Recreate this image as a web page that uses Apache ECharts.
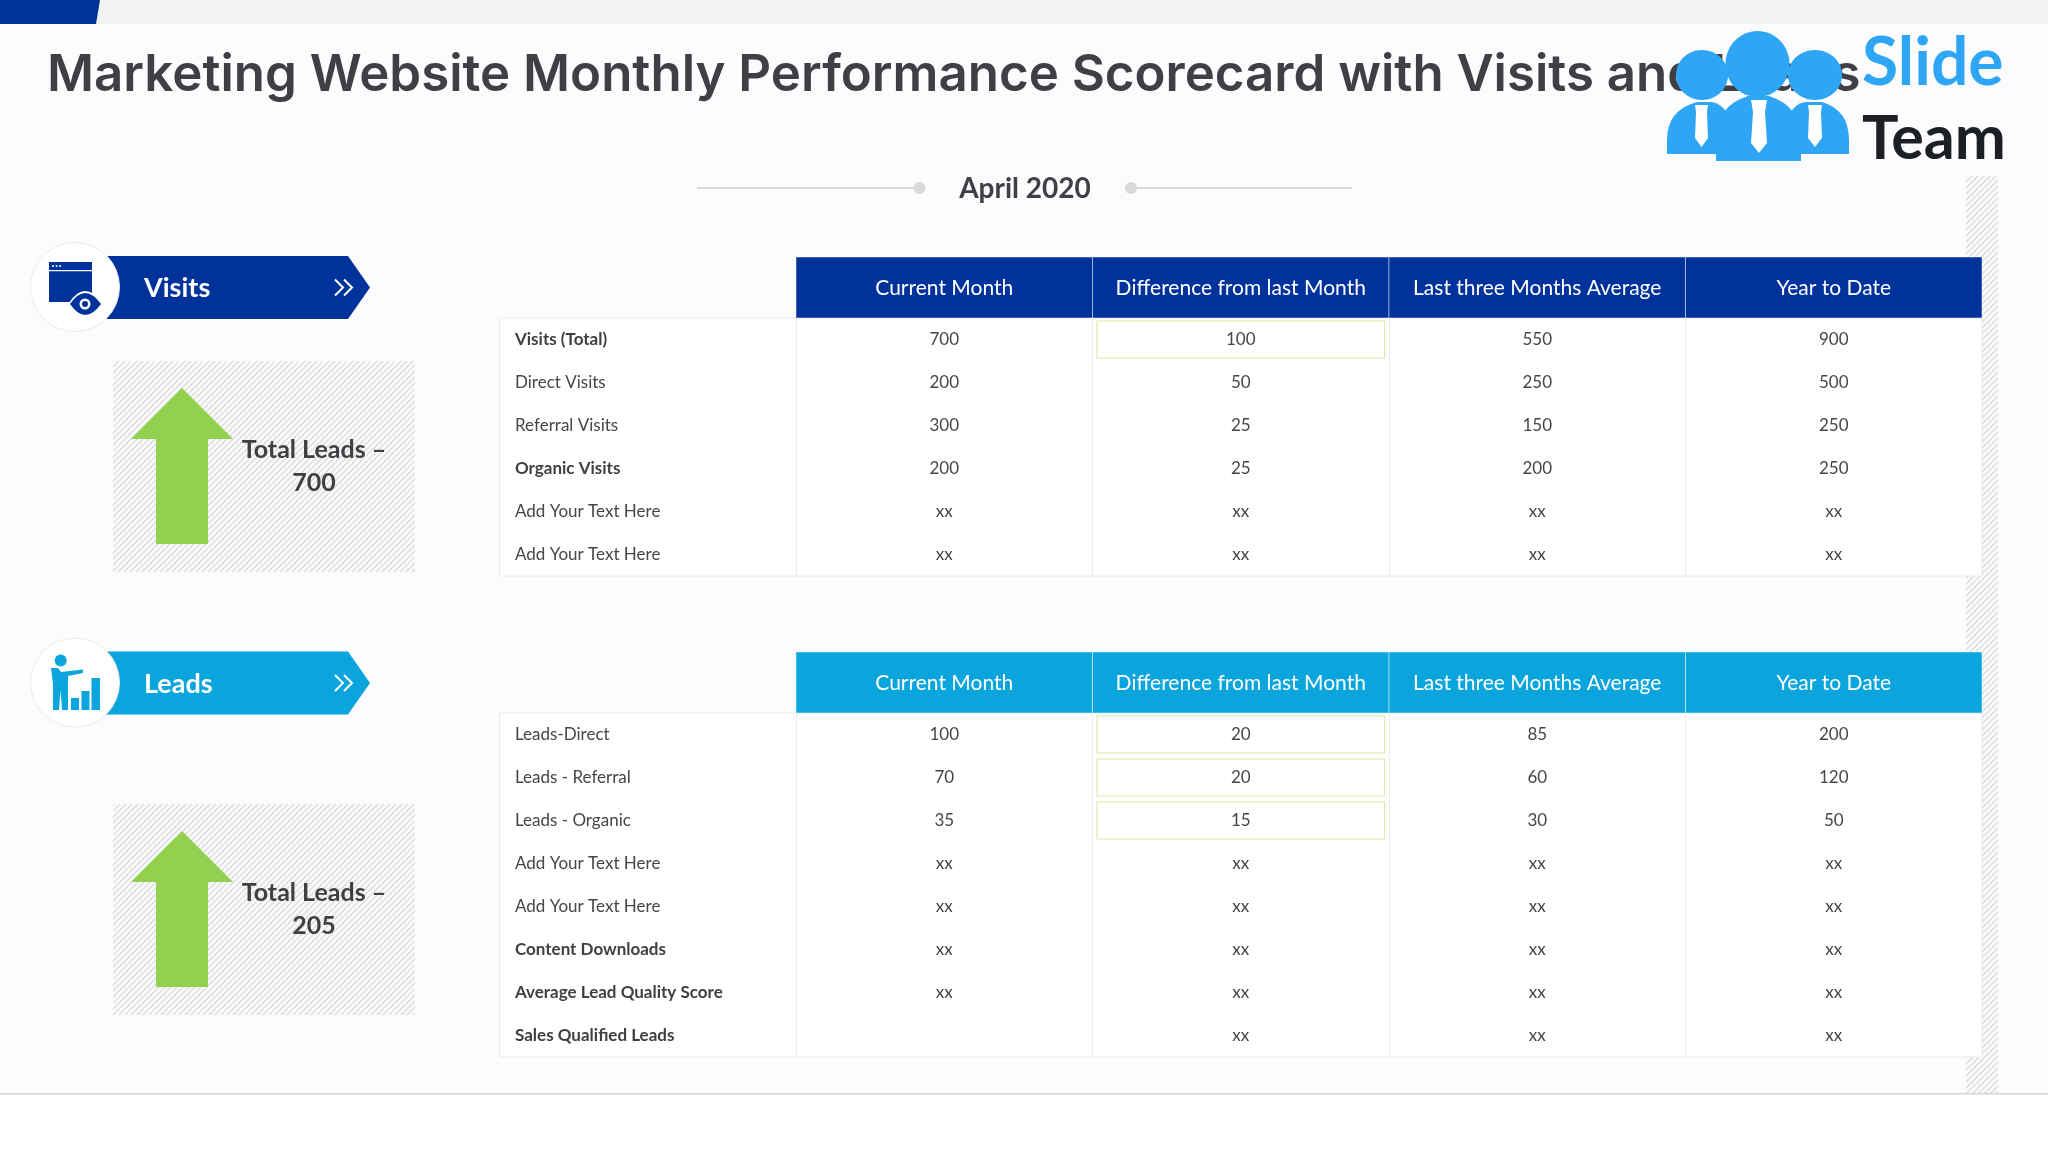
<!DOCTYPE html>
<html>
<head>
<meta charset="utf-8">
<title>Marketing Website Monthly Performance Scorecard</title>
<script src="https://cdn.jsdelivr.net/npm/echarts@6/dist/echarts.min.js"></script>
<style>
html,body{margin:0;padding:0;background:#fff;}
#main{width:2048px;height:1152px;}
</style>
</head>
<body>
<div id="main"></div>
<script>
var titleText = 'Marketing Website Monthly Performance Scorecard with Visits and Leads';
var periodText = 'April 2020';
var columns = ['Current Month','Difference from last Month','Last three Months Average','Year to Date'];

var visitRows = ['Visits (Total)','Direct Visits','Referral Visits','Organic Visits','Add Your Text Here','Add Your Text Here'];
var visitBoldRows = [0,3];
var visitCurrent = ['700','200','300','200','xx','xx'];
var visitDiff = ['100','50','25','25','xx','xx'];
var visitAvg = ['550','250','150','200','xx','xx'];
var visitYtd = ['900','500','250','250','xx','xx'];
var visitBoxed = [0];

var leadRows = ['Leads-Direct','Leads - Referral','Leads - Organic','Add Your Text Here','Add Your Text Here','Content Downloads','Average Lead Quality Score','Sales Qualified Leads'];
var leadBoldRows = [5,6,7];
var leadCurrent = ['100','70','35','xx','xx','xx','xx',''];
var leadDiff = ['20','20','15','xx','xx','xx','xx','xx'];
var leadAvg = ['85','60','30','xx','xx','xx','xx','xx'];
var leadYtd = ['200','120','50','xx','xx','xx','xx','xx'];
var leadBoxed = [0,1,2];

var visitTotalLabel = ['Total Leads –','700'];
var leadTotalLabel = ['Total Leads –','205'];

var DARK = '#00329b', LIGHT = '#0aa5dc', GREEN = '#92d050', INK = '#404044', BODY = '#46464a', LOGO = '#2fa5f5';
var FONT = 'Lato';

// diagonal hatch tile for the grey panels
function hatch(){
	var c = document.createElement('canvas');
	c.width = 6; c.height = 6;
	var g = c.getContext('2d');
	g.fillStyle = '#fafafa';
	g.fillRect(0,0,6,6);
	g.strokeStyle = '#d6d6d8';
	g.lineWidth = 1.2;
	g.beginPath();
	g.moveTo(-1,1); g.lineTo(1,-1);
	g.moveTo(-1,7); g.lineTo(7,-1);
	g.moveTo(5,7); g.lineTo(7,5);
	g.stroke();
	return c;
}
var hatchFill = {image:hatch(),repeat:'repeat'};

function rect(x,y,w,h,fill){
	return {type:'rect',shape:{x:x,y:y,width:w,height:h},style:{fill:fill}};
}
function poly(points,fill){
	return {type:'polygon',shape:{points:points},style:{fill:fill}};
}
function line(points,stroke,w){
	return {type:'polyline',shape:{points:points},style:{fill:'none',stroke:stroke,lineWidth:w}};
}
function circle(cx,cy,r,fill,stroke){
	return {type:'circle',shape:{cx:cx,cy:cy,r:r},style:{fill:fill,stroke:stroke||'none',lineWidth:stroke?1:0}};
}
function ellipse(cx,cy,rx,ry,fill){
	return {type:'ellipse',shape:{cx:cx,cy:cy,rx:rx,ry:ry},style:{fill:fill}};
}
function curve(d,x,y,w,h,fill){
	return {type:'path',shape:{pathData:d,layout:'cover',x:x,y:y,width:w,height:h},style:{fill:fill}};
}
function label(text,x,y,size,weight,fill,align){
	return {type:'text',style:{text:text,x:x,y:y,fontFamily:FONT,fontSize:size,fontWeight:weight,fill:fill,align:align||'center',verticalAlign:'middle'}};
}
function deco(z,children){
	return {type:'custom',coordinateSystem:'none',z:z,silent:true,data:[0],renderItem:function(){
		return {type:'group',children:children};
	}};
}

function banner(cy,name,color){
	var t = cy-31.5, b = cy+31.5;
	return [
		poly([[100,t],[348,t],[370,cy],[348,b],[100,b]],color),
		circle(75,cy-0.5,44.5,'#fff','#e9ebee'),
		label(name,144,cy+1,27,'bold','#fff','left'),
		line([[335,cy-8],[343,cy],[335,cy+8]],'#fff',2),
		line([[344,cy-8],[352,cy],[344,cy+8]],'#fff',2)
	];
}
function totalPanel(top,labels){
	return [
		rect(113,top,302,211,hatchFill),
		poly([[182,top+27],[233,top+78],[208,top+78],[208,top+183],[156,top+183],[156,top+78],[131,top+78]],GREEN),
		label(labels[0],314,top+89,25,'bold',INK),
		label(labels[1],314,top+122,25,'bold',INK)
	];
}

var back = [
	rect(0,24,2048,1069,'#fcfbfe'),
	rect(0,0,2048,24,'#f0f3f0'),
	rect(0,1093,2048,1.5,'#d4d4d6'),
	rect(1966,176,32,917,hatchFill)
];

var visitIcon = [
	rect(49,262,43,40,DARK),
	rect(49,270,43,1.2,'#fff'),
	circle(53,266,1,'#fff'),circle(56.5,266,1,'#fff'),circle(60,266,1,'#fff'),
	curve('M68 304 Q85 285 103 304 Q85 323 68 304 Z',68,291,35,26,'#fff'),
	curve('M70 304 Q85 287 101 304 Q85 321 70 304 Z',70,293,31,22,DARK),
	circle(85,304,5.5,'#fff'),circle(85,304,3,DARK)
];
var leadIcon = [
	circle(60.7,660.5,6,LIGHT),
	poly([[51,668],[58,668],[61,672],[83,669.5],[83,673],[68,676],[68,710],[62,710],[60.5,690],[59,710],[53,710],[53,684]],LIGHT),
	rect(71,698,8,12,LIGHT),rect(81.5,691,8,19,LIGHT),rect(91.5,678,8.5,32,LIGHT)
];
var periodMark = [
	rect(697,187,222,2,'#d9d9db'),circle(919.5,188,6,'#d9d9db'),
	rect(1131,187,221,2,'#d9d9db'),circle(1131,188,6,'#d9d9db'),
	label(periodText,1025,188.5,28,'bold',INK)
];
var topBlue = [poly([[0,0],[100,0],[96,24],[0,24]],DARK)];

// logo sits on top of the title, as it does on the slide
var logo = [
	curve('M1667 154 L1667 140 Q1667 110 1697 102 L1712 102 Q1730 106 1730 130 L1730 154 Z',1667,102,63,52,LOGO),
	curve('M1787 154 L1787 130 Q1787 106 1805 102 L1822 102 Q1849 110 1849 140 L1849 154 Z',1787,102,62,52,LOGO),
	ellipse(1702,75,26,25,LOGO),
	ellipse(1815,75,27,25,LOGO),
	curve('M1716 161 L1716 140 Q1716 106 1748 96 L1769 96 Q1801 106 1801 140 L1801 161 Z',1716,96,85,65,LOGO),
	ellipse(1757.5,64,32,33,LOGO),
	poly([[1695,105],[1708,105],[1707,112],[1708,138],[1701.5,147],[1695,138],[1696,112]],'#fff'),
	poly([[1808,105],[1822,105],[1821,112],[1822,138],[1815,147],[1808,138],[1809,112]],'#fff'),
	poly([[1751,100],[1767,100],[1765,112],[1767,143],[1759,153],[1751,143],[1753,112]],'#fff'),
	label('Slide',1862,64,66,'bold',LOGO,'left'),
	label('Team',1862,139,61,'bold','#1c1f24','left')
];

function bodyGrid(top,rows){
	return {left:499.5,top:top,width:1482.5,height:rows*43,show:true,backgroundColor:'#fff',borderColor:'#e9ebee',borderWidth:1};
}
function headGrid(top){
	return {left:796,top:top,width:1186,height:61,show:false};
}
function bodyX(idx){
	return {type:'category',gridIndex:idx,data:[''].concat(columns),axisLine:{show:false},axisTick:{show:false},axisLabel:{show:false},
		splitLine:{show:true,interval:0,lineStyle:{color:'#e9ebee',width:1}}};
}
function bodyY(idx,rows,bold){
	return {type:'category',gridIndex:idx,inverse:true,data:rows,axisLine:{show:false},axisTick:{show:false},splitLine:{show:false},
		axisLabel:{show:true,inside:true,interval:0,margin:15.5,align:'left',
			formatter:function(v,i){return bold.indexOf(i)>=0 ? '{b|'+v+'}' : '{n|'+v+'}';},
			rich:{
				b:{fontFamily:FONT,fontSize:17,fontWeight:'bold',color:INK},
				n:{fontFamily:FONT,fontSize:17,color:BODY}
			}}};
}
function headX(idx){
	return {type:'category',gridIndex:idx,data:columns,show:false};
}
function headY(idx){
	return {type:'category',gridIndex:idx,data:['Header'],show:false};
}

function headSeries(idx,color){
	return {type:'custom',xAxisIndex:idx,yAxisIndex:idx,silent:true,z:3,
		data:columns.map(function(c,i){return [i,0];}),
		encode:{x:0,y:1},
		renderItem:function(params,api){
			var p = api.coord([api.value(0),0]), s = api.size([1,1]);
			return {type:'group',children:[
				{type:'rect',shape:{x:p[0]-s[0]/2,y:p[1]-s[1]/2,width:s[0],height:s[1]},style:{fill:color,stroke:'rgba(255,255,255,0.45)',lineWidth:1}},
				label(columns[params.dataIndex],p[0],p[1]+1,21,'normal','#fff')
			]};
		}};
}
function bodySeries(idx,cols,boxed){
	var cells = [];
	cols.forEach(function(col,c){
		col.forEach(function(v,r){ cells.push({c:c+1,r:r,text:v,box:c==1&&boxed.indexOf(r)>=0}); });
	});
	return {type:'custom',xAxisIndex:idx,yAxisIndex:idx,silent:true,z:3,
		data:cells.map(function(d){return [d.c,d.r];}),
		encode:{x:0,y:1},
		renderItem:function(params,api){
			var d = cells[params.dataIndex];
			var p = api.coord([d.c,d.r]), s = api.size([1,1]);
			var kids = [];
			if(d.box){
				kids.push({type:'rect',shape:{x:p[0]-s[0]/2+4.5,y:p[1]-s[1]/2+3,width:s[0]-9,height:s[1]-6},style:{fill:'#fff',stroke:'#dbe9a6',lineWidth:1.2}});
			}
			kids.push(label(d.text,p[0],p[1]+0.5,17,'normal',BODY));
			return {type:'group',children:kids};
		}};
}

var chart = echarts.init(document.getElementById('main'));
var option = {
	backgroundColor:'#fff',
	animation:false,
	title:{text:titleText,left:47,top:50,padding:0,z:4,textStyle:{fontFamily:'Inter',fontSize:51,fontWeight:600,color:INK}},
	grid:[headGrid(257),bodyGrid(318,6),headGrid(652),bodyGrid(713,8)],
	xAxis:[headX(0),bodyX(1),headX(2),bodyX(3)],
	yAxis:[headY(0),bodyY(1,visitRows,visitBoldRows),headY(2),bodyY(3,leadRows,leadBoldRows)],
	series:[
		deco(-1,back),
		deco(1,topBlue.concat(periodMark,banner(287.5,'Visits',DARK),banner(683,'Leads',LIGHT),visitIcon,leadIcon,totalPanel(361,visitTotalLabel),totalPanel(804,leadTotalLabel))),
		headSeries(0,DARK),
		bodySeries(1,[visitCurrent,visitDiff,visitAvg,visitYtd],visitBoxed),
		headSeries(2,LIGHT),
		bodySeries(3,[leadCurrent,leadDiff,leadAvg,leadYtd],leadBoxed),
		deco(10,logo)
	]
};
chart.setOption(option);
</script>
</body>
</html>
